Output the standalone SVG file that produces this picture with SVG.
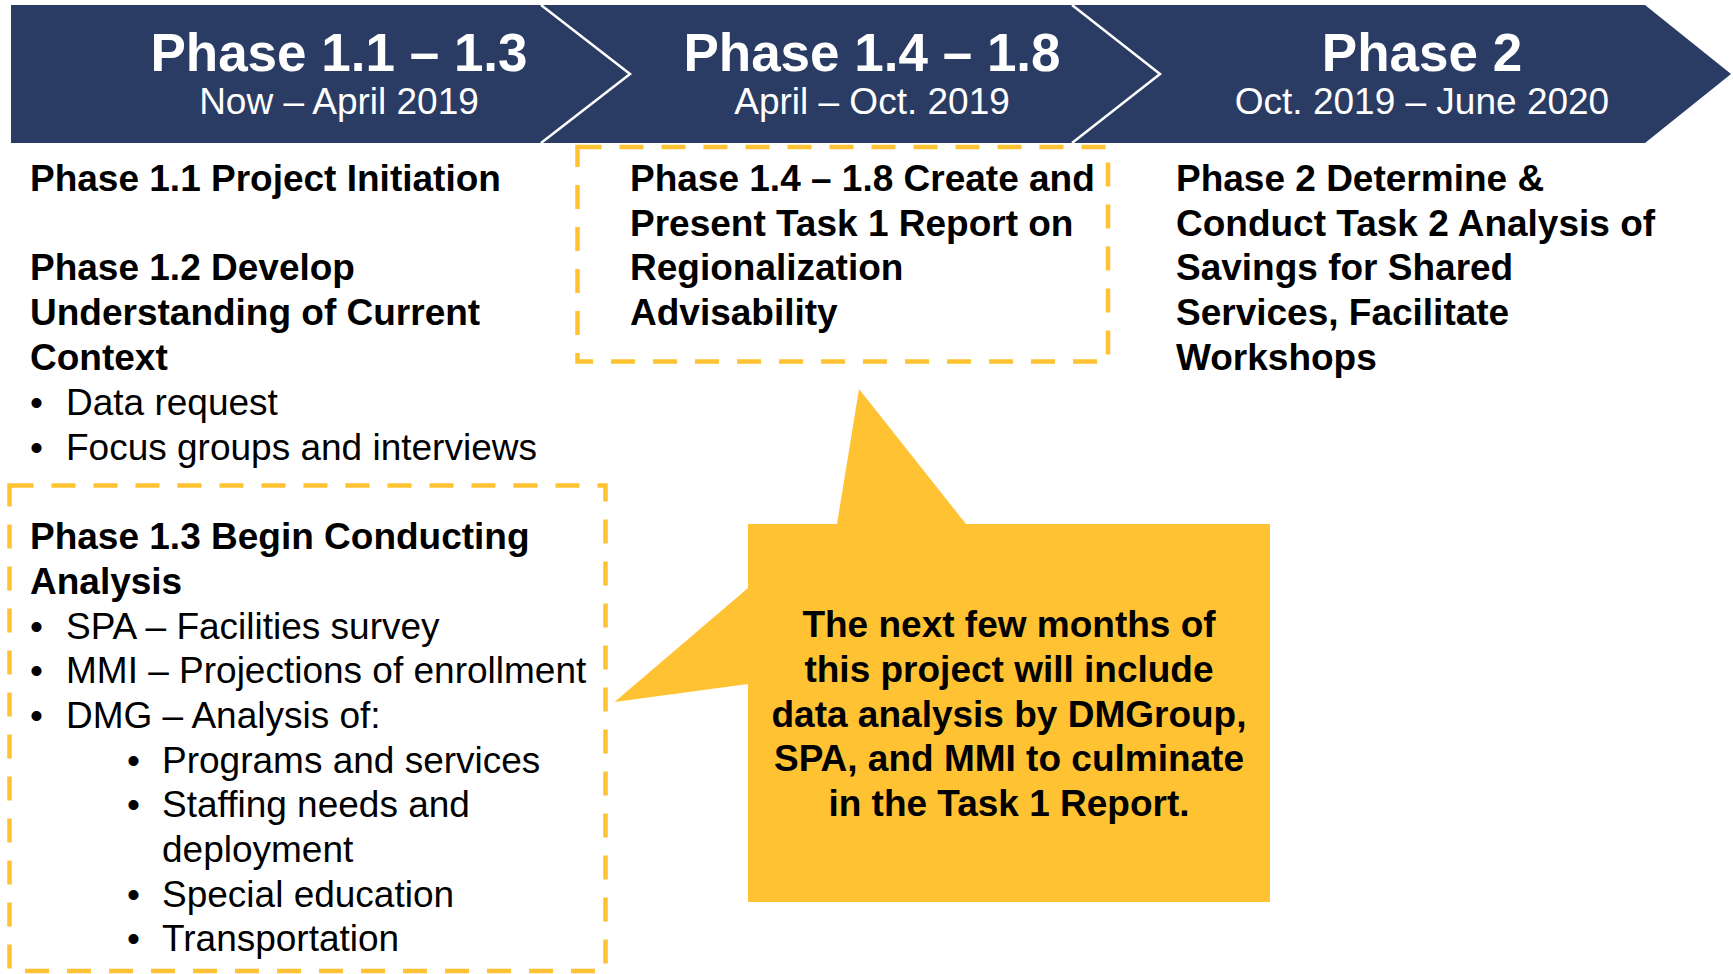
<svg xmlns="http://www.w3.org/2000/svg" width="1733" height="974" viewBox="0 0 1733 974">
<style>
.band{fill:#2A3C64;}
.sep{fill:none;stroke:#FFFFFF;stroke-width:2.5;}
.h{font-family:"Liberation Sans",Arial,sans-serif;font-size:53px;font-weight:bold;fill:#FFFFFF;text-anchor:middle;}
.sub{font-family:"Liberation Sans",Arial,sans-serif;font-size:37px;fill:#FFFFFF;text-anchor:middle;}
.b{font-family:"Liberation Sans",Arial,sans-serif;font-size:37px;font-weight:bold;fill:#000000;}
.r{font-family:"Liberation Sans",Arial,sans-serif;font-size:37px;fill:#000000;}
.c{font-family:"Liberation Sans",Arial,sans-serif;font-size:37px;font-weight:bold;fill:#000000;text-anchor:middle;}
.dash{fill:none;stroke:#FFC233;stroke-width:4.5;stroke-dasharray:24 18;}
.call{fill:#FFC233;}
</style>
<rect x="0" y="0" width="1733" height="974" fill="#FFFFFF"/>
<g id="phase-1-1-1-3-header">
<polygon class="band" points="11,5 541,5 630,74 541,143 11,143"/>
<text class="h" x="339" y="71">Phase 1.1 – 1.3</text>
<text class="sub" x="339" y="114">Now – April 2019</text>
</g>
<g id="phase-1-4-1-8-header">
<polygon class="band" points="541,5 1072,5 1160,74 1072,143 541,143 630,74"/>
<text class="h" x="872" y="71">Phase 1.4 – 1.8</text>
<text class="sub" x="872" y="114">April – Oct. 2019</text>
</g>
<g id="phase-2-header">
<polygon class="band" points="1072,5 1645,5 1731,74 1645,143 1072,143 1160,74"/>
<text class="h" x="1422" y="71">Phase 2</text>
<text class="sub" x="1422" y="114">Oct. 2019 – June 2020</text>
</g>
<g id="separators">
<polyline class="sep" points="541,5 630,74 541,143"/>
<polyline class="sep" points="1072,5 1160,74 1072,143"/>
</g>
<g id="phase-1-1-1-2">
<text class="b" x="30" y="191">Phase 1.1 Project Initiation</text>
<text class="b" x="30" y="280">Phase 1.2 Develop</text>
<text class="b" x="30" y="325">Understanding of Current</text>
<text class="b" x="30" y="370">Context</text>
<text class="r" x="30" y="415">•</text>
<text class="r" x="66" y="415">Data request</text>
<text class="r" x="30" y="460">•</text>
<text class="r" x="66" y="460">Focus groups and interviews</text>
</g>
<g id="phase-1-3">
<rect class="dash" x="9.5" y="485.5" width="596" height="485.5"/>
<text class="b" x="30" y="549">Phase 1.3 Begin Conducting</text>
<text class="b" x="30" y="594">Analysis</text>
<text class="r" x="30" y="638.5">•</text>
<text class="r" x="66" y="638.5">SPA – Facilities survey</text>
<text class="r" x="30" y="683">•</text>
<text class="r" x="66" y="683">MMI – Projections of enrollment</text>
<text class="r" x="30" y="728">•</text>
<text class="r" x="66" y="728">DMG – Analysis of:</text>
<text class="r" x="127" y="772.5">•</text>
<text class="r" x="162" y="772.5">Programs and services</text>
<text class="r" x="127" y="817">•</text>
<text class="r" x="162" y="817">Staffing needs and</text>
<text class="r" x="162" y="862">deployment</text>
<text class="r" x="127" y="906.5">•</text>
<text class="r" x="162" y="906.5">Special education</text>
<text class="r" x="127" y="951">•</text>
<text class="r" x="162" y="951">Transportation</text>
</g>
<g id="phase-1-4-1-8">
<rect class="dash" x="577.5" y="147" width="530.5" height="214.5"/>
<text class="b" x="630" y="191">Phase 1.4 – 1.8 Create and</text>
<text class="b" x="630" y="236">Present Task 1 Report on</text>
<text class="b" x="630" y="280">Regionalization</text>
<text class="b" x="630" y="325">Advisability</text>
</g>
<g id="phase-2">
<text class="b" x="1176" y="191">Phase 2 Determine &amp;</text>
<text class="b" x="1176" y="236">Conduct Task 2 Analysis of</text>
<text class="b" x="1176" y="280">Savings for Shared</text>
<text class="b" x="1176" y="325">Services, Facilitate</text>
<text class="b" x="1176" y="370">Workshops</text>
</g>
<g id="callout">
<polygon class="call" points="748,524 837,524 859,389 966,524 1270,524 1270,902 748,902 748,684 614.5,702 748,588"/>
<text class="c" x="1009" y="637">The next few months of</text>
<text class="c" x="1009" y="682">this project will include</text>
<text class="c" x="1009" y="726.5">data analysis by DMGroup,</text>
<text class="c" x="1009" y="771">SPA, and MMI to culminate</text>
<text class="c" x="1009" y="815.5">in the Task 1 Report.</text>
</g>
</svg>
